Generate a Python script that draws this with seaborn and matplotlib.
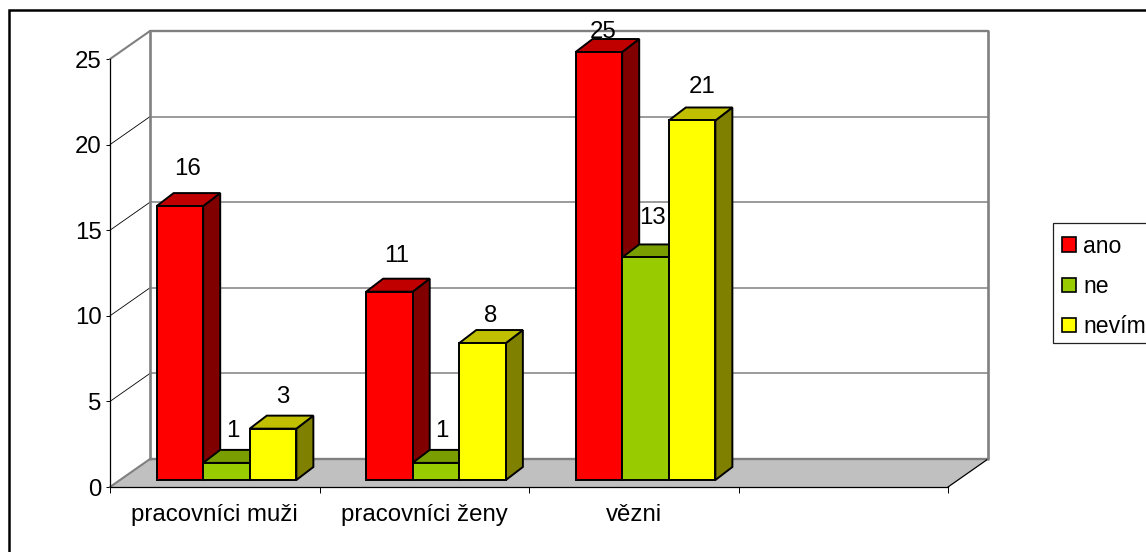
import numpy as np
import pandas as pd
import matplotlib
matplotlib.use('Agg')
import matplotlib.pyplot as plt
from matplotlib.lines import Line2D
from matplotlib.patches import Patch, Polygon, Rectangle
import seaborn as sns

categories = ['pracovníci muži', 'pracovníci ženy', 'vězni']
slots = categories + ['']
series_names = ['ano', 'ne', 'nevím']
ano = [16, 11, 25]
ne = [1, 1, 13]
nevim = [3, 8, 21]
y_ticks = [0, 5, 10, 15, 20, 25]

front_colors = ['#FF0000', '#99CC00', '#FFFF00']
top_colors = ['#C00000', '#7A9E00', '#C0C000']
side_colors = ['#800000', '#4D6600', '#808000']

# label nudges in px, bars left to right
label_dx = [8, 6, 10, 7, 6, 8, 4, 7, 10]
label_rise = [37.5, 31.5, 31.5, 35.5, 31.5, 27.5, 20.5, 39.5, 33.5]

df = pd.DataFrame({'kategorie': categories, 'ano': ano, 'ne': ne, 'nevím': nevim})
df = df.melt(id_vars='kategorie', var_name='odpoved', value_name='pocet')

sns.set_style('white')
plt.rcParams['font.family'] = ['Liberation Sans', 'DejaVu Sans']
FS = 17.3
plt.rcParams['font.size'] = FS

W, H = 1146, 552
fig = plt.figure(figsize=(W / 100, H / 100), dpi=100)
ax = fig.add_axes([110 / W, (H - 487) / H, 838 / W, 428 / H])

sns.barplot(data=df, x='kategorie', y='pocet', hue='odpoved', order=slots,
            hue_order=series_names, palette=front_colors, saturation=1,
            width=0.667, gap=0, legend=False, errorbar=None, ax=ax)
ax.set_xlim(-0.5, 3.5)
ax.set_ylim(0, 25)

px = 4 / 838
py = 25 / 428
x0, x1 = -0.5, 3.5
back_x = 40 * px
back_y = 28 * py

# floor
ax.add_patch(Polygon([(x0, 0), (x1, 0), (x1 + back_x, back_y), (x0 + back_x, back_y)],
                     facecolor='#C0C0C0', edgecolor='none', zorder=1, clip_on=False))

def seg(xs, ys, color, lw, z=1.5):
    ax.add_line(Line2D(xs, ys, color=color, lw=lw, zorder=z, clip_on=False))

# back wall grid and the lines running to the front
for t in y_ticks:
    seg([x0 + back_x, x1 + back_x], [t + back_y, t + back_y], '#808080', 1.7 if t in (0, 25) else 1.1)
    if 0 < t < 25:
        seg([x0, x0 + back_x], [t, t + back_y], '#000000', 0.6)
seg([x0, x0 + back_x], [25, 25 + back_y], '#808080', 1.5)
seg([x0, x0 + back_x], [0, back_y], '#808080', 1.5)
seg([x1, x1 + back_x], [0, back_y], '#000000', 0.9)
seg([x0 + back_x] * 2, [back_y, 25 + back_y], '#808080', 1.9)
seg([x1 + back_x] * 2, [back_y, 25 + back_y], '#808080', 1.9)

# 3D look: move the bars into the floor, add side and top faces
bars = [b for b in ax.patches if isinstance(b, Rectangle)
        and np.isfinite(b.get_height()) and b.get_height() > 0]
bars = sorted(bars, key=lambda b: b.get_x())
shift_x = 11.75 * px
shift_y = 7 * py
dep_x = 17 * px
dep_y = 13 * py
edge = dict(edgecolor='black', linewidth=1.4, joinstyle='miter', clip_on=False)
for i, b in enumerate(bars):
    hue_i = front_colors.index(matplotlib.colors.to_hex(b.get_facecolor()).upper())
    value = b.get_height()
    b.set_x(b.get_x() + shift_x)
    b.set_y(shift_y)
    b.set(zorder=5 + i + 0.5, clip_on=False, edgecolor='black', linewidth=1.4)
    l, r = b.get_x(), b.get_x() + b.get_width()
    bot, top = shift_y, shift_y + value
    ax.add_patch(Polygon([(r, bot), (r + dep_x, bot + dep_y), (r + dep_x, top + dep_y), (r, top)],
                         facecolor=side_colors[hue_i], zorder=5 + i, **edge))
    ax.add_patch(Polygon([(l, top), (r, top), (r + dep_x, top + dep_y), (l + dep_x, top + dep_y)],
                         facecolor=top_colors[hue_i], zorder=5 + i, **edge))
    ax.text((l + r) / 2 + label_dx[i] * px, top + label_rise[i] * py, str(int(value)),
            ha='center', va='center', color='black', fontsize=FS, zorder=30)

# axes
sns.despine(ax=ax, top=True, right=True)
for s in ('left', 'bottom'):
    ax.spines[s].set_color('#000000')
    ax.spines[s].set_linewidth(0.9)
    ax.spines[s].set_zorder(2)
ax.set_xlabel('')
ax.set_ylabel('')
ax.set_yticks(y_ticks)
ax.set_xticks(range(len(slots)))
ax.set_xticklabels(slots)
ax.set_xticks(np.arange(x0, x1 + 0.5), minor=True)
ax.tick_params(axis='x', which='major', length=0, pad=12.5, labelsize=FS, colors='black')
ax.tick_params(axis='x', which='minor', bottom=True, length=4.5, width=0.7, color='black')
ax.tick_params(axis='y', left=True, length=3, width=0.7, pad=3, labelsize=FS, colors='black')

# legend box runs off the right edge, so it is drawn apart from the entries
fig.add_artist(Rectangle((1052.5 / W, 1 - 342.5 / H), 110 / W, 119.5 / H, transform=fig.transFigure,
                         facecolor='white', edgecolor='#222222', linewidth=0.9))
LFS = 16.6
leg_handles = [Patch(facecolor=c, edgecolor='black', linewidth=1.2) for c in front_colors]
leg = fig.legend(leg_handles, series_names, loc='upper left',
                 bbox_to_anchor=(1052 / W, 1 - 225 / H), bbox_transform=fig.transFigure,
                 frameon=False, fontsize=LFS,
                 handlelength=0.6, handleheight=0.6, handletextpad=0.33,
                 labelspacing=0.75, borderpad=0.42, borderaxespad=0, labelcolor='black')

# outer frame, only top and left are in the picture
fig.add_artist(Line2D([8.5 / W, 8.5 / W, 1], [0, 1 - 9.5 / H, 1 - 9.5 / H],
                      color='black', lw=1.8, transform=fig.transFigure,
                      solid_joinstyle='miter'))

fig.savefig('out.png', dpi=100, facecolor='white')
